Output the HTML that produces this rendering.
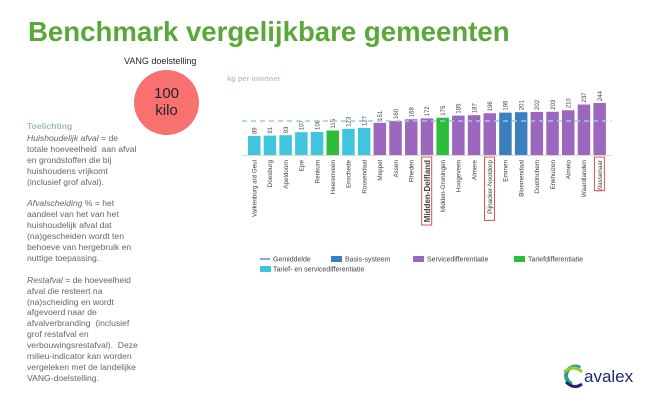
<!DOCTYPE html>
<html><head><meta charset="utf-8"><style>
body{margin:0;width:671px;height:401px;background:#fff;position:relative;overflow:hidden;font-family:"Liberation Sans",sans-serif}
.t{position:absolute;left:28px;top:16px;font-size:27.6px;font-weight:bold;color:#5aa83a;letter-spacing:0px}
.side{position:absolute;left:27px;top:121px;width:113px;font-size:8.6px;line-height:10.9px;color:#666}
.side i{font-style:italic}
</style></head><body>
<div class="t">Benchmark vergelijkbare gemeenten</div>
<div style="position:absolute;left:124px;top:56px;font-size:9px;color:#223">VANG doelstelling</div>
<div style="position:absolute;left:134px;top:70px;width:65px;height:65px;border-radius:50%;background:#f8716f;color:#223;font-size:15px;line-height:17px;text-align:center;box-sizing:border-box;padding-top:15px">100<br>kilo</div>
<div style="position:absolute;left:227px;top:74px;font-size:7.5px;font-weight:bold;color:#b8c8cc">kg per inwoner</div>
<div class="side"><div style="color:#9bb;font-weight:bold;margin-bottom:1px">Toelichting</div>
<i>Huishoudelijk afval</i> = de totale hoeveelheid&nbsp; aan afval en grondstoffen die bij huishoudens vrijkomt (inclusief grof afval).<br><br>
<i>Afvalscheiding</i> % = het aandeel van het van het huishoudelijk afval dat (na)gescheiden wordt ten behoeve van hergebruik en nuttige toepassing.<br><br>
<i>Restafval</i> = de hoeveelheid afval die resteert na (na)scheiding en wordt afgevoerd naar de afvalverbranding&nbsp; (inclusief grof restafval en verbouwingsrestafval).&nbsp; Deze milieu-indicator kan worden vergeleken met de landelijke VANG-doelstelling.</div>
<svg width="671" height="401" style="position:absolute;left:0;top:0" font-family="Liberation Sans,sans-serif">
<g id="bars"></g>
<line x1="242" y1="121" x2="612" y2="121" stroke="#9cc6ee" stroke-width="1.5" stroke-dasharray="5,4"/>
<line x1="242" y1="155.5" x2="612" y2="155.5" stroke="#ccc" stroke-width="0.8"/>
<g font-size="7" fill="#444">
<line x1="260" y1="259" x2="270" y2="259" stroke="#4a90e0" stroke-width="1.5"/><text x="273" y="261.5">Gemiddelde</text>
<rect x="331" y="256" width="11" height="6" fill="#3b7fbf"/><text x="345" y="261.5">Basis-systeem</text>
<rect x="413" y="256" width="11" height="6" fill="#9b68bd"/><text x="427" y="261.5">Servicedifferentiatie</text>
<rect x="514" y="256" width="11" height="6" fill="#2ebd3a"/><text x="528" y="261.5">Tariefdifferentiatie</text>
<rect x="260" y="266" width="11" height="6" fill="#3fc6dc"/><text x="273" y="271.5">Tarief- en servicedifferentiatie</text>
</g>
<g transform="translate(560,362)">
<path d="M20 6 A9 9 0 1 0 12 22" fill="none" stroke="#2b9f8c" stroke-width="4"/>
<path d="M4 10 Q14 2 22 10" fill="none" stroke="#9acd32" stroke-width="3"/>
<path d="M6 20 Q14 28 22 22" fill="none" stroke="#1e2a6e" stroke-width="3"/>
<text x="24" y="20" font-size="17" fill="#1e2a6e">avalex</text>
</g>
</svg>
<script>
var d=[["Valkenburg a/d Geul",89,"c"],["Doesburg",91,"c"],["Apeldoorn",93,"c"],["Epe",107,"c"],["Renkum",108,"c"],["Heerenveen",115,"g"],["Enschede",123,"c"],["Roosendaal",127,"c"],["Meppel",151,"p"],["Assen",160,"p"],["Rheden",168,"p"],["Midden-Delfland",172,"p",1],["Midden-Groningen",175,"g"],["Hoogeveen",185,"p"],["Almere",187,"p"],["Pijnacker-Nootdorp",196,"p",2],["Emmen",199,"b"],["Bloemendaal",201,"b"],["Doetinchem",202,"p"],["Enkhuizen",203,"p"],["Almelo",210,"p"],["Waardlanden",237,"p"],["Wassenaar",244,"p",2]];
var col={c:"#3fc6dc",g:"#2ebd3a",p:"#9b68bd",b:"#3b7fbf"};
var s="",pitch=15.7;
d.forEach(function(r,i){var x=248+i*pitch,h=r[1]*0.213,y=155-h;
s+='<rect x="'+x+'" y="'+y+'" width="12.5" height="'+h+'" fill="'+col[r[2]]+'"/>';
var cx=x+8.5;
s+='<text transform="translate('+cx+','+(y-2)+') rotate(-90)" font-size="6" fill="#444">'+r[1]+'</text>';
var fs=r[3]==1?8:6.3,fw=r[3]==1?'bold':'normal';
s+='<text transform="translate('+(cx+(r[3]==1?1:0))+',160) rotate(-90)" text-anchor="end" font-size="'+fs+'" font-weight="'+fw+'" fill="#444">'+r[0]+'</text>';
if(r[3]){var L=r[3]==1?68:(r[0].length*3.3+4);s+='<rect x="'+(x+1)+'" y="157" width="10" height="'+L+'" fill="none" stroke="#e05050" stroke-width="1"/>';}
});
document.getElementById("bars").innerHTML=s;
</script>
</body></html>
